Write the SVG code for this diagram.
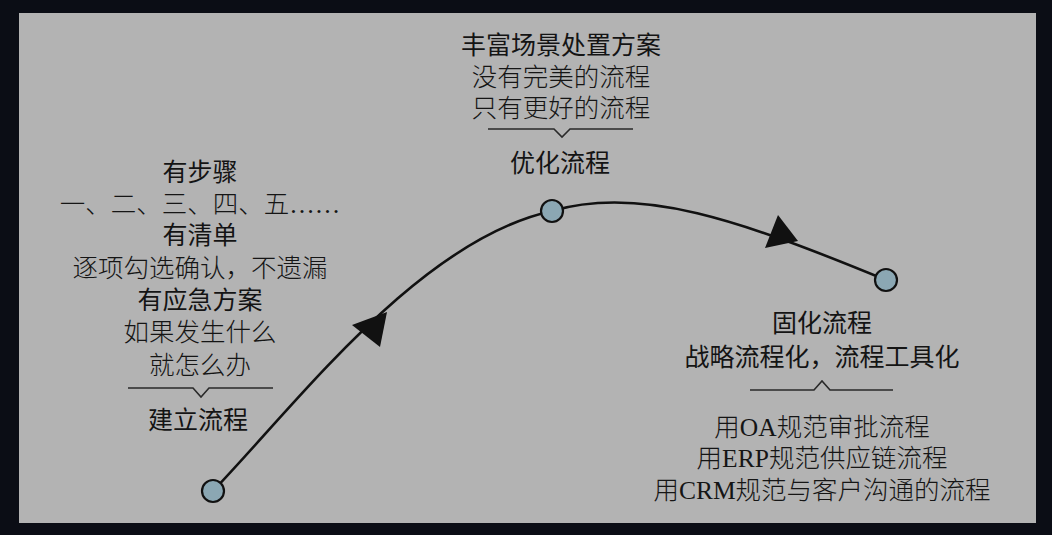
<svg xmlns="http://www.w3.org/2000/svg" width="1052" height="535" viewBox="0 0 1052 535">
<style>
.h{font-family:"Liberation Sans","Noto Sans CJK SC",sans-serif;font-size:25px;fill:#141414;text-anchor:middle;font-weight:400}
.b{font-family:"Liberation Serif","Noto Sans CJK SC",serif;font-size:25.5px;fill:#151515;text-anchor:middle;font-weight:300}
.notch{fill:none;stroke:#2a2a2a;stroke-width:1.6}
.node{fill:#8ba7b3;stroke:#111;stroke-width:2.2}
.curve{fill:none;stroke:#111;stroke-width:2.6}
.head{fill:#111}
</style>
<rect x="0" y="0" width="1052" height="535" fill="#0b0d15"/>
<rect x="19" y="13" width="1017" height="510" fill="#b3b3b3"/>
<g id="connectors">
<path class="curve" d="M213,491 C300,400 420,240 552,211"/>
<path class="curve" d="M552,211 C640,185 740,220 886,280"/>
<polygon class="head" points="387,312 352,325 380,347"/>
<polygon class="head" points="798,241 778,215 765,248"/>
</g>
<g id="node-build">
<circle class="node" cx="213" cy="491" r="11"/>
<text class="h" x="200" y="181">有步骤</text>
<text class="b" x="200" y="213">一、二、三、四、五……</text>
<text class="h" x="200" y="244">有清单</text>
<text class="b" x="200" y="277">逐项勾选确认，不遗漏</text>
<text class="h" x="200" y="309">有应急方案</text>
<text class="b" x="200" y="341">如果发生什么</text>
<text class="b" x="200" y="374">就怎么办</text>
<polyline class="notch" points="128,388 193,388 201,397 209,388 273,388"/>
<text class="h" x="198" y="429">建立流程</text>
</g>
<g id="node-optimize">
<circle class="node" cx="552" cy="211" r="11"/>
<text class="h" x="561" y="54">丰富场景处置方案</text>
<text class="b" x="561" y="86">没有完美的流程</text>
<text class="b" x="561" y="117">只有更好的流程</text>
<polyline class="notch" points="488,129 554,129 562,137 570,129 633,129"/>
<text class="h" x="560" y="172">优化流程</text>
</g>
<g id="node-solidify">
<circle class="node" cx="886" cy="280" r="11"/>
<text class="h" x="822" y="332">固化流程</text>
<text class="h" x="822" y="366">战略流程化，流程工具化</text>
<polyline class="notch" points="750,390 814,390 822,381 830,390 893,390"/>
<text class="b" x="822" y="436">用OA规范审批流程</text>
<text class="b" x="822" y="467">用ERP规范供应链流程</text>
<text class="b" x="822" y="499">用CRM规范与客户沟通的流程</text>
</g>
</svg>
